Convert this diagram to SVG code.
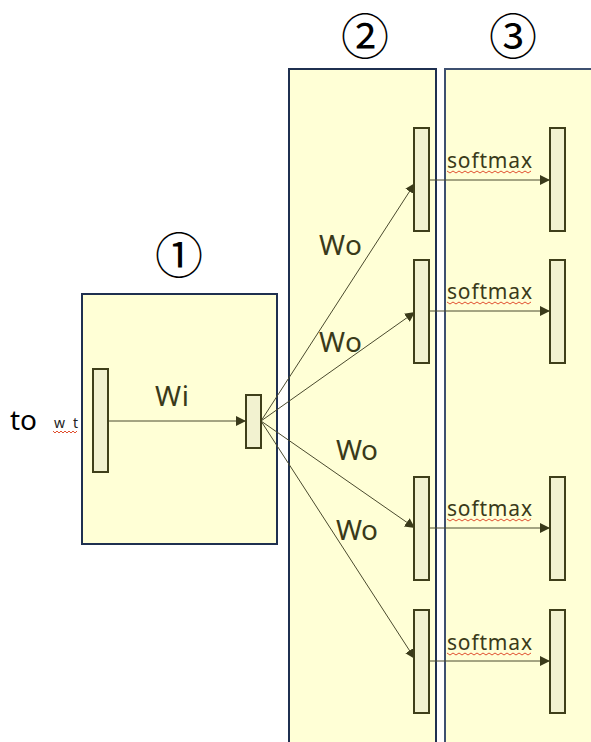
<svg xmlns="http://www.w3.org/2000/svg" width="591" height="742" viewBox="0 0 591 742">
<defs>
<style>
.box{fill:#FFFFD6;stroke:#1F3050;stroke-width:2}
.box3{fill:#FFFFD6;stroke:#3E5070;stroke-width:2}
.bar{fill:#F2F2D0;stroke:#3F3F1A;stroke-width:2}
.ln{stroke:#4A4A2E;stroke-width:1;fill:none}
.lbl{font-family:"Noto Sans","DejaVu Sans",sans-serif;fill:#3A3A1A}
.num{font-family:"Noto Sans CJK JP","Noto Sans",sans-serif;fill:#000;font-size:48px;text-anchor:middle}
.sq{stroke:#E05030;stroke-width:1;fill:none}
</style>
<marker id="ah" viewBox="0 0 10 10" refX="10" refY="5" markerWidth="10" markerHeight="10" markerUnits="userSpaceOnUse" orient="auto">
<path d="M0,0 L10,5 L0,10 z" fill="#3A3A1A"/>
</marker>
</defs>
<g id="box1"><rect class="box" x="82" y="294" width="195" height="250"/></g>
<g id="box2"><rect class="box" x="289" y="69" width="147" height="690"/></g>
<g id="box3"><rect class="box3" x="445" y="69" width="160" height="690"/></g>
<g id="labels">
<text class="num" x="179" y="273">①</text>
<text class="num" x="365" y="54">②</text>
<text class="num" x="513" y="54">③</text>
<text class="lbl" x="10" y="430" font-size="28" style="fill:#000">to</text>
<text class="lbl" x="54" y="428" font-size="14" textLength="24" style="fill:#222">w t</text>
<path class="sq" d="M53,431 l2,2 l2,-2 l2,2 l2,-2 l2,2 l2,-2 l2,2 l2,-2 l2,2 l2,-2 l2,2 l2,-2"/>
<text class="lbl" x="155" y="406" font-size="28" textLength="34">Wi</text>
<text class="lbl" x="319" y="255" font-size="28" textLength="43">Wo</text>
<text class="lbl" x="319" y="352" font-size="28" textLength="43">Wo</text>
<text class="lbl" x="336" y="460" font-size="28" textLength="42">Wo</text>
<text class="lbl" x="336" y="540" font-size="28" textLength="42">Wo</text>
</g>
<g id="connectors">
<line class="ln" x1="108" y1="421" x2="246" y2="421" marker-end="url(#ah)"/>
<line class="ln" x1="261" y1="421" x2="415" y2="183" marker-end="url(#ah)"/>
<line class="ln" x1="261" y1="421" x2="415" y2="312" marker-end="url(#ah)"/>
<line class="ln" x1="261" y1="421" x2="415" y2="528" marker-end="url(#ah)"/>
<line class="ln" x1="261" y1="421" x2="415" y2="659" marker-end="url(#ah)"/>
<line class="ln" x1="429" y1="180" x2="550" y2="180" marker-end="url(#ah)"/>
<line class="ln" x1="429" y1="311" x2="550" y2="311" marker-end="url(#ah)"/>
<line class="ln" x1="429" y1="528" x2="550" y2="528" marker-end="url(#ah)"/>
<line class="ln" x1="429" y1="661" x2="550" y2="661" marker-end="url(#ah)"/>
</g>
<g id="softmax">
<text class="lbl" x="447" y="168" font-size="21" textLength="85">softmax</text>
<path class="sq" d="M447,171 l3,2 l3,-2 l3,2 l3,-2 l3,2 l3,-2 l3,2 l3,-2 l3,2 l3,-2 l3,2 l3,-2 l3,2 l3,-2 l3,2 l3,-2 l3,2 l3,-2 l3,2 l3,-2 l3,2 l3,-2 l3,2 l3,-2 l3,2 l3,-2 l3,2 l3,-2"/>
<text class="lbl" x="447" y="299" font-size="21" textLength="85">softmax</text>
<path class="sq" d="M447,302 l3,2 l3,-2 l3,2 l3,-2 l3,2 l3,-2 l3,2 l3,-2 l3,2 l3,-2 l3,2 l3,-2 l3,2 l3,-2 l3,2 l3,-2 l3,2 l3,-2 l3,2 l3,-2 l3,2 l3,-2 l3,2 l3,-2 l3,2 l3,-2 l3,2 l3,-2"/>
<text class="lbl" x="447" y="516" font-size="21" textLength="85">softmax</text>
<path class="sq" d="M447,519 l3,2 l3,-2 l3,2 l3,-2 l3,2 l3,-2 l3,2 l3,-2 l3,2 l3,-2 l3,2 l3,-2 l3,2 l3,-2 l3,2 l3,-2 l3,2 l3,-2 l3,2 l3,-2 l3,2 l3,-2 l3,2 l3,-2 l3,2 l3,-2 l3,2 l3,-2"/>
<text class="lbl" x="447" y="650" font-size="21" textLength="85">softmax</text>
<path class="sq" d="M447,653 l3,2 l3,-2 l3,2 l3,-2 l3,2 l3,-2 l3,2 l3,-2 l3,2 l3,-2 l3,2 l3,-2 l3,2 l3,-2 l3,2 l3,-2 l3,2 l3,-2 l3,2 l3,-2 l3,2 l3,-2 l3,2 l3,-2 l3,2 l3,-2 l3,2 l3,-2"/>
</g>
<g id="input-bar"><rect class="bar" x="93" y="369" width="15" height="103"/></g>
<g id="hidden-bar"><rect class="bar" x="246" y="395" width="15" height="53"/></g>
<g id="out1"><rect class="bar" x="414" y="128" width="15" height="103"/></g>
<g id="out2"><rect class="bar" x="414" y="260" width="15" height="103"/></g>
<g id="out3"><rect class="bar" x="414" y="477" width="15" height="103"/></g>
<g id="out4"><rect class="bar" x="414" y="610" width="15" height="103"/></g>
<g id="sm1"><rect class="bar" x="550" y="128" width="15" height="103"/></g>
<g id="sm2"><rect class="bar" x="550" y="260" width="15" height="103"/></g>
<g id="sm3"><rect class="bar" x="550" y="477" width="15" height="103"/></g>
<g id="sm4"><rect class="bar" x="550" y="610" width="15" height="103"/></g>
</svg>
